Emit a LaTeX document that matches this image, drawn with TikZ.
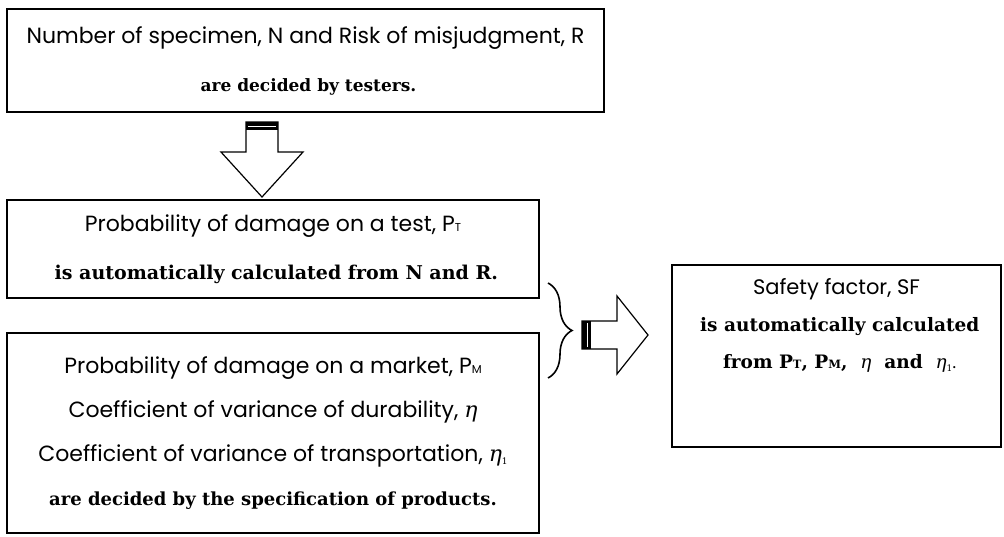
\documentclass[tikz,border=0pt]{standalone}
\usepackage{fontspec}
\setmainfont{DejaVu Serif}
\newfontfamily\gothicfam{Poppins}
\newfontfamily\schoolfam{DejaVu Serif}
\usetikzlibrary{decorations.pathreplacing}
\newcommand{\gothic}{\gothicfam}
\newcommand{\schoolbk}[1][18]{\schoolfam\bfseries\fontsize{#1}{\the\baselineskip}\selectfont}
\newcommand{\lowcap}[1]{{\fontsize{11.5}{11.5}\selectfont #1}}
\newcommand{\etasym}{{\schoolfam\mdseries\itshape η}}
\newcommand{\etaone}{\etasym\raisebox{-3pt}{\schoolfam\mdseries\fontsize{9}{9}\selectfont 1}}

\begin{document}
\begin{tikzpicture}[x=1pt, y=-1pt,
  box/.style = {draw, line width=1.3pt, align=center, inner sep=0pt},
  blockarrow/.style = {draw, line width=1.2pt, line join=miter, fill=white}]
\useasboundingbox (0,0) rectangle (1004,536);
\node[box, minimum width=597pt, minimum height=103pt, font=\gothic\fontsize{22}{48}\selectfont] (spec) at (305.5,60.5)
  {Number of specimen, N and Risk of misjudgment, R\\ \schoolbk[17] are decided by testers.};
\node[box, minimum width=532pt, minimum height=98pt, font=\gothic\fontsize{22}{48}\selectfont] (ptest) at (273,249)
  {Probability of damage on a test, P\lowcap{T}\\ \schoolbk[19] is automatically calculated from N and R.};
\node[box, minimum width=532pt, minimum height=200pt, font=\gothic\fontsize{22}{44}\selectfont] (pmarket) at (273,433)
  {Probability of damage on a market, P\lowcap{M}\\
   Coefficient of variance of durability, \etasym\\
   Coefficient of variance of transportation, \etaone\\
   \schoolbk are decided by the specification of products.};
\node[box, minimum width=329pt, minimum height=182pt, text depth=65pt, font=\gothic\fontsize{21}{37}\selectfont] (safety) at (836.5,356)
  {Safety factor, SF\\ \schoolbk[18.5] is automatically calculated\\
   \schoolbk[18.5] from P\lowcap{T}, P\lowcap{M}, \ \etasym\ \ and \ \etaone\lowcap{.}};
% down arrow
\draw[blockarrow] (246,122) -- (278,122) -- (278,152) -- (303,152) -- (262,197) -- (221,152) -- (246,152) -- cycle;
\fill (246,122) rectangle (278,130);
\draw[white, line width=0.8pt] (248,126.5) -- (276,126.5);
% brace and right arrow
\draw[line width=1.6pt, decorate, decoration={brace, amplitude=24pt}] (548,283) -- (548,378);
\draw[blockarrow] (582,321) -- (617,321) -- (617,296) -- (648,335) -- (617,374) -- (617,349) -- (582,349) -- cycle;
\fill (582,321) rectangle (591,349);
\draw[white, line width=0.8pt] (587,323) -- (587,347);
\end{tikzpicture}
\end{document}
